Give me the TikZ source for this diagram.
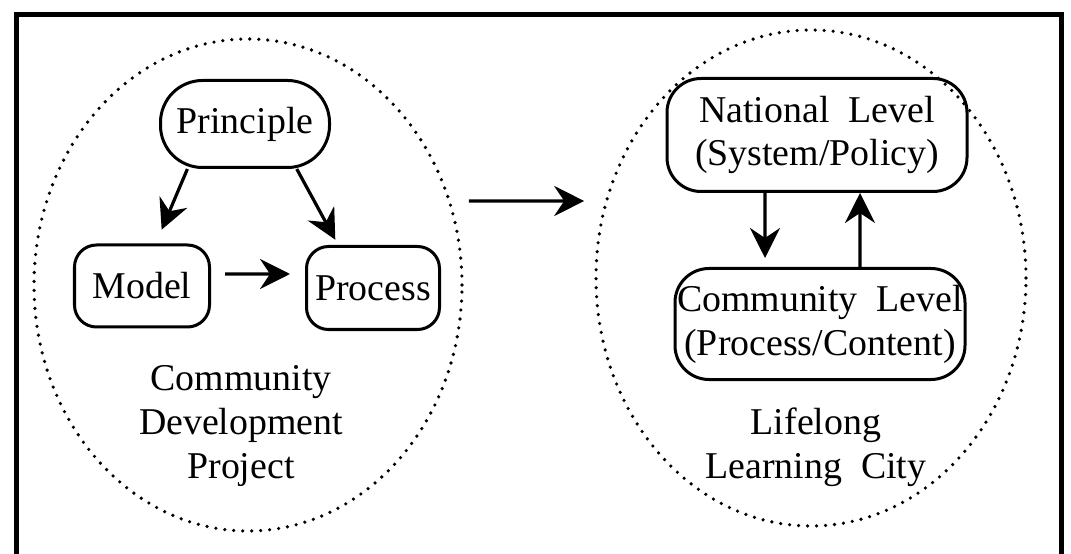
\documentclass[tikz,border=0pt]{standalone}
\usepackage{fontspec}
\setmainfont{Liberation Serif}
\usetikzlibrary{arrows.meta,positioning,shapes.geometric}

\begin{document}
\begin{tikzpicture}[x=1bp,y=-1bp,
  >={Stealth[length=30bp,width=30bp,inset=10bp]},
  level box/.style={draw,line width=3bp,inner sep=2bp,align=center,
    font=\fontsize{38}{44}\selectfont},
  flow/.style={->,line width=3.2bp},
  dotted ring/.style={draw,ellipse,line width=3.6bp,line cap=round,
    dash pattern=on 0bp off 9bp},
  caption/.style={align=center,font=\fontsize{38}{44}\selectfont}]

\useasboundingbox (0,0) rectangle (1071,554);
\draw[line width=5bp] (16,554) -- (16,15) -- (1061,15) -- (1061,554);

% left: community development project
\node[dotted ring, minimum width=428bp, minimum height=492bp] (cdring) at (248,285) {};
\node[level box, minimum width=169bp, minimum height=87bp, rounded corners=42bp] (principle) at (245,124) {Principle};
\node[level box, minimum width=135bp, minimum height=82bp, rounded corners=22bp] (model) at (142,286) {Model};
\node[level box, minimum width=133bp, minimum height=83bp, rounded corners=22bp] (process) at (373,288) {Process};
\node[caption] (cdp) at (241,426) {Community\\Development\\Project};

\draw[flow, shorten >=15bp] (principle.218) -- (model.72);
\draw[flow, shorten >=6bp] (principle.319) -- (process.129);
\draw[flow, shorten <=14bp, shorten >=15bp] ([yshift=12bp]model.east) -- ([yshift=14bp]process.west);

% right: lifelong learning city
\node[dotted ring, minimum width=430bp, minimum height=496bp] (llcring) at (811,278) {};
\node[level box, minimum width=300bp, minimum height=113bp, rounded corners=34bp] (national) at (817,135) {National\ \ Level\\(System/Policy)};
\node[level box, minimum width=289bp, minimum height=111bp, rounded corners=34bp] (community) at (820,324) {Community\ \ Level\\(Process/Content)};
\node[caption] (llc) at (816,447) {Lifelong\\Learning\ \ City};

\draw[flow, shorten >=9bp] ([xshift=-52bp]national.south) -- ([xshift=-55bp]community.north);
\draw[flow] ([xshift=40bp]community.north) -- ([xshift=43bp]national.south);

% between the rings
\draw[flow, shorten <=5bp, shorten >=10bp] ([yshift=84bp]cdring.east) -- ([yshift=77bp]llcring.west);

\end{tikzpicture}
\end{document}
